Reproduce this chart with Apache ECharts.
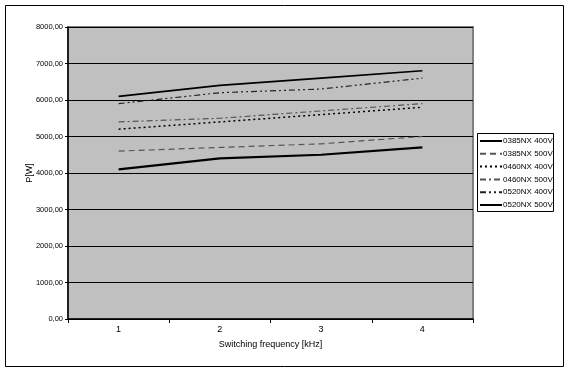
<!DOCTYPE html>
<html><head><meta charset="utf-8">
<script src="https://cdn.jsdelivr.net/npm/echarts@6/dist/echarts.min.js"></script>
<style>html,body{margin:0;padding:0;background:#fff}#c{width:569px;height:371px}</style>
</head><body><div id="c"></div>
<script>
const categories = ['1', '2', '3', '4'];
const s0385_400 = [4100, 4400, 4500, 4700];
const s0385_500 = [4600, 4700, 4800, 5000];
const s0460_400 = [5200, 5400, 5600, 5800];
const s0460_500 = [5400, 5500, 5700, 5900];
const s0520_400 = [5900, 6200, 6300, 6600];
const s0520_500 = [6100, 6400, 6600, 6800];
const seriesNames = ['0385NX 400V', '0385NX 500V', '0460NX 400V', '0460NX 500V', '0520NX 400V', '0520NX 500V'];

const font = "'Liberation Sans Narrow','Arial Narrow','Liberation Sans',Arial,sans-serif";
const styles = [
  {color: '#000', width: 2.2, type: 'solid'},
  {color: '#555', width: 1.2, type: [6, 4]},
  {color: '#000', width: 1.5, type: [2, 3]},
  {color: '#555', width: 1.2, type: [6, 3, 2, 3]},
  {color: '#222', width: 1.2, type: [6, 3, 2, 3, 2, 3]},
  {color: '#000', width: 1.6, type: 'solid'}
];
const datas = [s0385_400, s0385_500, s0460_400, s0460_500, s0520_400, s0520_500];

const chart = echarts.init(document.getElementById('c'));
chart.setOption({
  animation: false,
  backgroundColor: '#fff',
  graphic: [
    {type: 'rect', shape: {x: 5.5, y: 5.5, width: 558, height: 361}, style: {fill: 'none', stroke: '#000', lineWidth: 1}, z: -1},
    {type: 'rect', shape: {x: 477.5, y: 133.5, width: 76, height: 78}, style: {fill: '#fff', stroke: '#000', lineWidth: 1}, z: -1}
  ],
  grid: {left: 68, top: 27, width: 405, height: 292, show: true, backgroundColor: '#c0c0c0', borderColor: '#808080', borderWidth: 2},
  legend: {
    orient: 'vertical', left: 479, top: 137, itemWidth: 22, itemHeight: 8, itemGap: 4.8, padding: 0,
    itemStyle: {opacity: 0},
    textStyle: {fontFamily: font, fontSize: 8, color: '#000', padding: [0, 0, 0, -4]},
    data: seriesNames
  },
  xAxis: {
    type: 'category', data: categories, boundaryGap: true,
    name: 'Switching frequency [kHz]', nameLocation: 'middle', nameGap: 21,
    nameTextStyle: {fontFamily: font, fontSize: 9, color: '#000'},
    axisLine: {lineStyle: {color: '#000', width: 1.5}},
    axisTick: {show: true, length: 4, lineStyle: {color: '#000'}},
    axisLabel: {fontFamily: font, fontSize: 9, color: '#000', margin: 6}
  },
  yAxis: {
    type: 'value', min: 0, max: 8000, interval: 1000,
    name: 'P[W]', nameLocation: 'middle', nameGap: 34, nameRotate: 90, nameMoveOverlap: false,
    nameTextStyle: {fontFamily: font, fontSize: 9, color: '#000'},
    axisLine: {show: true, lineStyle: {color: '#000', width: 1.5}},
    axisTick: {show: true, length: 3, lineStyle: {color: '#000'}},
    splitLine: {lineStyle: {color: '#000', width: 1}},
    axisLabel: {fontFamily: font, fontSize: 7.5, color: '#000', margin: 5,
      formatter: v => v.toFixed(2).replace('.', ',')}
  },
  series: datas.map((d, i) => ({
    name: seriesNames[i], type: 'line', data: d, symbol: 'none', showSymbol: false,
    lineStyle: styles[i], itemStyle: {color: styles[i].color}
  }))
});
</script></body></html>
